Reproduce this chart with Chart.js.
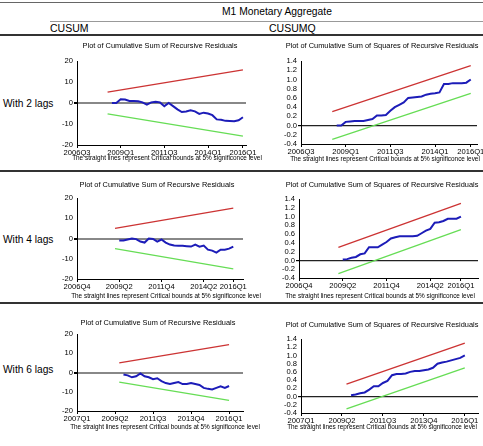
<!DOCTYPE html>
<html><head><meta charset="utf-8">
<script src="https://cdn.jsdelivr.net/npm/chart.js@4.4.1/dist/chart.umd.min.js"></script>
<style>
body{margin:0;width:483px;height:446px;position:relative;background:#fff;overflow:hidden;font-family:"Liberation Sans",Arial,sans-serif;color:#000;-webkit-font-smoothing:antialiased}
.t{position:absolute;white-space:nowrap;text-align:center;width:300px;line-height:1;will-change:transform}
.l{position:absolute;white-space:nowrap;line-height:1}
.hr{position:absolute;background:#333}
canvas{position:absolute}
</style></head><body>
<div class="hr" style="left:0;top:2px;width:483px;height:1px;background:#666"></div>
<div class="hr" style="left:50px;top:21px;width:433px;height:1px;background:#999"></div>
<div class="hr" style="left:0;top:34px;width:483px;height:2px"></div>
<div class="hr" style="left:0;top:170px;width:483px;height:2px"></div>
<div class="hr" style="left:0;top:302px;width:483px;height:2px"></div>
<div class="l" style="left:222px;top:7px;font-size:10.3px">M1 Monetary Aggregate</div>
<div class="l" style="left:50px;top:23px;font-size:10.5px">CUSUM</div>
<div class="l" style="left:269px;top:23px;font-size:10.5px">CUSUMQ</div>
<div class="l" style="left:3px;top:99px;font-size:10.2px">With 2 lags</div>
<div class="l" style="left:3px;top:235px;font-size:10.2px">With 4 lags</div>
<div class="l" style="left:3px;top:365px;font-size:10.2px">With 6 lags</div>
<script>
// ---------- DATA ----------
const rowLabels = ['With 2 lags','With 4 lags','With 6 lags'];
const xTicks2 = ['2006Q3','2009Q1','2011Q3','2014Q1','2016Q1'];
const xTicks4 = ['2006Q4','2009Q2','2011Q4','2014Q2','2016Q1'];
const xTicks6 = ['2007Q1','2009Q2','2011Q3','2013Q4','2016Q1'];
const cusumTicks = [-20,-10,0,10,20];
const cusumqTicks = [-0.4,-0.2,0.0,0.2,0.4,0.6,0.8,1.0,1.2,1.4];

// 2 lags
const boundsStart2 = '2008Q2', seriesStart2 = '2008Q3', endQ = '2016Q1';
const cusum2 = [0,0,1.8,1.7,1.0,1.0,0.8,0.3,-0.8,0.3,0.6,0.3,-1.5,0,-1.5,-3,-4.3,-4,-3.5,-4,-5.2,-4.6,-5,-5.8,-7.8,-8,-8.5,-8.6,-8.7,-8.2,-6.8];
const cusumUpper2 = [5.2,15.8], cusumLower2 = [-5.2,-15.8];
const cusumq2 = [0,0,0.08,0.09,0.1,0.1,0.1,0.12,0.14,0.22,0.22,0.23,0.32,0.4,0.45,0.5,0.6,0.61,0.62,0.63,0.67,0.69,0.7,0.72,0.9,0.9,0.92,0.92,0.92,0.93,1.0];
const cusumqUpper2 = [0.3,1.3], cusumqLower2 = [-0.3,0.7];

// 4 lags
const boundsStart4 = '2009Q1', seriesStart4 = '2009Q2';
const cusum4 = [-1,-1,-0.5,0,-0.3,-1.5,-2,0,-0.2,-1.5,-0.5,-2,-3,-3.5,-3.6,-3.6,-3.8,-4,-3,-4,-3.5,-5.5,-6,-7,-5.5,-5.5,-5,-4];
const cusumUpper4 = [5,15], cusumLower4 = [-5,-15];
const cusumq4 = [0.02,0.03,0.06,0.08,0.14,0.16,0.3,0.3,0.3,0.36,0.42,0.5,0.53,0.55,0.55,0.55,0.55,0.56,0.62,0.68,0.72,0.86,0.87,0.9,0.95,0.95,0.95,1.0];
const cusumqUpper4 = [0.3,1.3], cusumqLower4 = [-0.3,0.7];

// 6 lags
const boundsStart6 = '2009Q3', seriesStart6 = '2009Q4';
const cusum6 = [-1,-1.5,-2.5,-2,-0.5,-2,-2.5,-3.5,-3,-4.5,-5.5,-6,-5.5,-5,-6,-6,-5.5,-6,-6.5,-8,-8.5,-8.8,-8,-7.2,-8,-7];
const cusumUpper6 = [5,14.5], cusumLower6 = [-5,-14.5];
const cusumq6 = [0.03,0.05,0.08,0.1,0.17,0.25,0.25,0.33,0.38,0.52,0.55,0.55,0.56,0.6,0.62,0.62,0.64,0.66,0.7,0.8,0.83,0.85,0.88,0.91,0.94,1.0];
const cusumqUpper6 = [0.3,1.3], cusumqLower6 = [-0.3,0.7];

const titleCusum = 'Plot of Cumulative Sum of Recursive Residuals';
const titleCusumq = 'Plot of Cumulative Sum of Squares of Recursive Residuals';
const footnote = 'The straight lines represent Critical bounds at 5% significonce level';

// ---------- HELPERS ----------
function qIdx(label, base){
  const y=+label.slice(0,4), q=+label.slice(5), y0=+base.slice(0,4), q0=+base.slice(5);
  return (y-y0)*4 + (q-q0);
}
function pts(values, start, base){ const s=qIdx(start,base); return values.map((v,i)=>({x:s+i,y:v})); }
function bound(vals, start, base){ return [{x:qIdx(start,base),y:vals[0]},{x:qIdx(endQ,base),y:vals[1]}]; }

function text(str, cx, cy, size){
  const d=document.createElement('div'); d.className='t'; d.textContent=str;
  d.style.left=(cx-150)+'px'; d.style.top=(cy-size/2)+'px'; d.style.fontSize=size+'px'; document.body.appendChild(d);
}

const RED='#cc3333', GREEN='#66dd55', BLUE='#1c1cb8';

function makeChart(box, xTicks, yTicks, isQ, series, up, lo, bStart, sStart, xMax){
  const yw=30, xh=15, pt=7, pr=16;
  const W=box.r-box.l+yw+pr, H=box.b-box.t+pt+xh;
  const c=document.createElement('canvas');
  c.width=W; c.height=H; c.style.width=W+'px'; c.style.height=H+'px';
  c.style.left=(box.l-yw)+'px'; c.style.top=(box.t-pt)+'px';
  document.body.appendChild(c);
  const base=xTicks[0];
  const tickPos=xTicks.map(t=>qIdx(t,base));
  const font={family:'"Liberation Sans", Arial, sans-serif', size:7.6};
  new Chart(c,{
    type:'line',
    data:{datasets:[
      {data:bound(up,bStart,base),borderColor:RED,borderWidth:1.3,pointRadius:0},
      {data:bound(lo,bStart,base),borderColor:GREEN,borderWidth:1.3,pointRadius:0},
      {data:pts(series,sStart,base),borderColor:BLUE,borderWidth:2,pointRadius:0,tension:0}
    ]},
    options:{
      responsive:false, animation:false, devicePixelRatio:1,
      layout:{padding:{top:pt,right:pr,left:0,bottom:0}},
      plugins:{legend:{display:false},tooltip:{enabled:false},title:{display:false}},
      scales:{
        x:{type:'linear',min:0,max:xMax,
          afterBuildTicks:s=>{s.ticks=tickPos.map(v=>({value:v}));},
          afterFit:s=>{s.height=xh;},
          ticks:{autoSkip:false,maxRotation:0,minRotation:0,color:'#000',font,padding:0,
            callback:(v)=>{const i=tickPos.indexOf(v);return i>=0?xTicks[i]:'';}},
          grid:{drawOnChartArea:false,drawTicks:true,tickLength:3,tickColor:'#000'},
          border:{color:'#000',width:1}},
        y:{min:yTicks[0],max:yTicks[yTicks.length-1],
          afterBuildTicks:s=>{s.ticks=yTicks.map(v=>({value:v}));},
          afterFit:s=>{s.width=yw;},
          ticks:{autoSkip:false,color:'#000',font,padding:1,
            callback:v=>isQ?(+v).toFixed(1):String(v)},
          grid:{drawTicks:true,tickLength:3,tickColor:'#000',
            color:ctx=>(ctx.tick&&Math.abs(ctx.tick.value)<1e-9)?(isQ?'#222':'#888'):'rgba(0,0,0,0)',
            lineWidth:ctx=>(ctx.tick&&Math.abs(ctx.tick.value)<1e-9)?(isQ?1.2:2):0},
          border:{color:'#000',width:1}}
      }
    }
  });
}

// ---------- LAYOUT ----------
makeChart({l:77,t:61,r:246,b:145}, xTicks2, cusumTicks, false, cusum2, cusumUpper2, cusumLower2, boundsStart2, seriesStart2, 38.7);
makeChart({l:301,t:61,r:477,b:144}, xTicks2, cusumqTicks, true, cusumq2, cusumqUpper2, cusumqLower2, boundsStart2, seriesStart2, 39.4);
makeChart({l:77,t:198,r:243,b:279}, xTicks4, cusumTicks, false, cusum4, cusumUpper4, cusumLower4, boundsStart4, seriesStart4, 39.3);
makeChart({l:299,t:199,r:478,b:278}, xTicks4, cusumqTicks, true, cusumq4, cusumqUpper4, cusumqLower4, boundsStart4, seriesStart4, 40.9);
makeChart({l:77,t:334,r:243,b:411}, xTicks6, cusumTicks, false, cusum6, cusumUpper6, cusumLower6, boundsStart6, seriesStart6, 39.3);
makeChart({l:301,t:339,r:478,b:413}, xTicks6, cusumqTicks, true, cusumq6, cusumqUpper6, cusumqLower6, boundsStart6, seriesStart6, 38.9);

text(titleCusum, 160, 46, 7.4);   text(titleCusumq, 382, 46, 7.4);
text(footnote, 167, 158, 6.4);    text(footnote, 385, 159, 6.4);
text(titleCusum, 157, 185, 7.4);  text(titleCusumq, 382, 185, 7.4);
text(footnote, 166, 296, 6.4);    text(footnote, 380, 296, 6.4);
text(titleCusum, 158, 323, 7.4);  text(titleCusumq, 382, 325, 7.4);
text(footnote, 165, 427, 6.4);    text(footnote, 382, 427, 6.4);
</script>
</body></html>
